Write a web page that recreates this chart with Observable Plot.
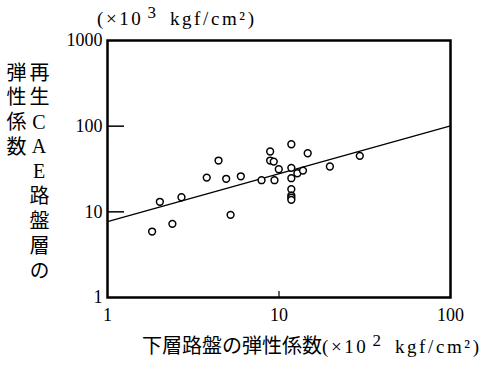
<!DOCTYPE html>
<html><head><meta charset="utf-8">
<script src="https://cdn.jsdelivr.net/npm/d3@7"></script>
<script src="https://cdn.jsdelivr.net/npm/@observablehq/plot@0.6"></script>
<style>
body{margin:0;background:#fff}
#c{position:relative;width:482px;height:366px;overflow:hidden;font-family:"Liberation Serif",serif;color:#000}
#c svg{position:absolute;left:0;top:0}
.t{position:absolute;white-space:nowrap;line-height:1}
.cjk{font-family:"Noto Sans CJK JP",sans-serif}
.u{font-family:"Liberation Serif",serif;font-size:19px;letter-spacing:2.6px}
.u sup{font-size:17px;vertical-align:0;position:relative;top:-7px;margin-left:4px;margin-right:4px}
.col{position:absolute;writing-mode:vertical-rl;font-family:"Noto Sans CJK JP",sans-serif;font-size:20px;line-height:22px;letter-spacing:4.75px;white-space:nowrap}
.tcu{text-combine-upright:all;font-family:"Liberation Serif",serif;margin-inline-end:4.75px}
</style></head><body><div id="c"></div>
<script>
const lowerLayer = [1.82, 2.02, 2.39, 2.70, 3.79, 4.44, 4.92, 5.22, 5.99, 7.91, 8.88, 8.88, 9.32, 9.41, 9.97, 11.8, 11.8, 11.8, 11.8, 11.8, 11.8, 11.8, 12.8, 13.8, 14.7, 19.8, 29.6];
const caeLayer   = [5.89, 13.1, 7.24, 14.8, 25.1, 39.7, 24.3, 9.23, 26.0, 23.4, 50.6, 39.7, 38.6, 23.4, 31.4, 61.5, 32.6, 24.7, 18.4, 15.5, 14.6, 13.8, 28.2, 30.3, 48.3, 33.8, 45.0];
const fitX = [1, 100];
const fitY = [7.7, 101];
const xTicks = [1, 10, 100];
const yTicks = [1, 10, 100, 1000];
const innerTicksY = [10, 100];
const innerTicksX = [10];

const pts = lowerLayer.map((x, i) => ({x, y: caeLayer[i]}));
const fit = fitX.map((x, i) => ({x, y: fitY[i]}));

const W = 482, H = 366, mL = 107, mR = 32, mT = 40, mB = 69;
const chart = Plot.plot({
  width: W, height: H,
  marginLeft: mL, marginRight: mR, marginTop: mT, marginBottom: mB,
  style: {fontFamily: "Liberation Serif", fontSize: "18px", background: "white", color: "black"},
  x: {type: "log", domain: [1, 100]},
  y: {type: "log", domain: [1, 1000]},
  marks: [
    Plot.ruleY(innerTicksY, {insetRight: (W - mL - mR) - 17, strokeWidth: 1.5, stroke: "black"}),
    Plot.ruleX(innerTicksX, {insetTop: (H - mT - mB) - 6, strokeWidth: 1.2, stroke: "black"}),
    Plot.line(fit, {x: "x", y: "y", stroke: "black", strokeWidth: 1.3}),
    Plot.dot(pts, {x: "x", y: "y", r: 3.4, stroke: "black", strokeWidth: 1.5, fill: "white"}),
    Plot.frame({stroke: "black", strokeWidth: 2.5}),
    Plot.axisX({ticks: xTicks, tickSize: 0, tickPadding: 11, tickFormat: d => String(d), fontSize: 18, label: null}),
    Plot.axisY({ticks: yTicks, tickSize: 0, tickPadding: 5, tickFormat: d => String(d), fontSize: 18, label: null})
  ]
});
const c = document.getElementById("c");
c.appendChild(chart);

function add(html, cls, left, top) {
  const d = document.createElement("div");
  d.className = cls; d.innerHTML = html;
  d.style.left = left + "px"; d.style.top = top + "px";
  c.appendChild(d);
  return d;
}
// top unit
add('(×10<sup>3</sup> kgf/cm²)', "t u", 97, 9);
// bottom title
add('<span class="cjk" style="font-size:20px">下層路盤の弾性係数</span><span class="u">(×10<sup>2</sup> kgf/cm²)</span>', "t", 142, 335);
// vertical y label (two columns)
const colR = ["再","生","C","A","E","路","盤","層","の"];
const colL = ["弾","性","係","数"];
const mk = arr => arr.map(ch => /[A-Z]/.test(ch) ? `<span class="tcu">${ch}</span>` : ch).join("");
add(mk(colR), "col", 28, 62);
add(mk(colL), "col", 5, 62);
</script></body></html>
